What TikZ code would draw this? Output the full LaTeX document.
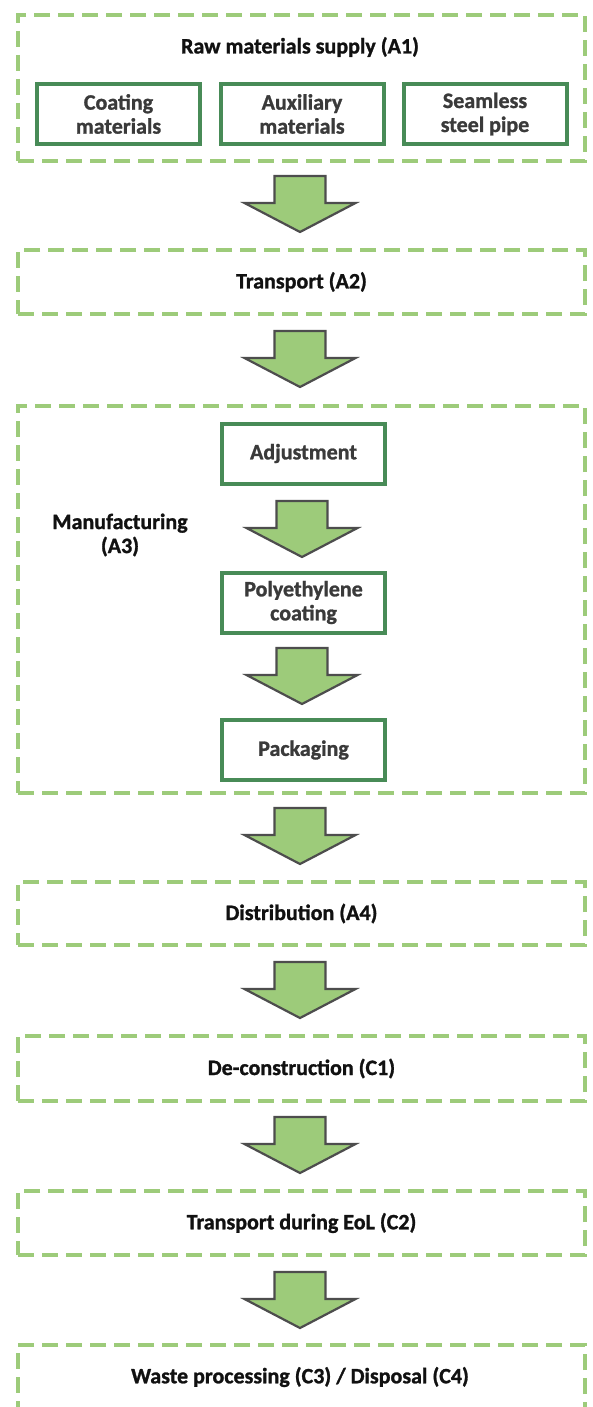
\documentclass[tikz,border=0pt]{standalone}
\usepackage{fontspec}
\setmainfont{Carlito}[BoldFeatures={FakeBold=1.2}]
\definecolor{dgreen}{HTML}{9DCB7A}
\definecolor{bgreen}{HTML}{488B57}
\definecolor{afill}{HTML}{9DCB7A}
\definecolor{aline}{HTML}{4D4D4D}
\definecolor{itext}{HTML}{3A3A3A}
\definecolor{otext}{HTML}{111111}
\tikzset{
  stage/.style={draw=dgreen, line width=4pt, dash pattern=on 16pt off 8pt,
    minimum width=567pt, inner sep=0pt, text=otext, align=center,
    font=\bfseries\fontsize{22}{24}\selectfont},
  sub/.style={draw=bgreen, line width=4pt, minimum width=163pt,
    minimum height=60pt, inner sep=0pt, text=itext, align=center,
    font=\bfseries\fontsize{22}{24}\selectfont},
  lbl/.style={inner sep=0pt, text=otext, align=center,
    font=\bfseries\fontsize{22}{24}\selectfont},
  blockarrow/.pic={
    \draw[draw=aline, fill=afill, line width=2.2pt, line join=miter]
      (-25.5,0) -- (25.5,0) -- (25.5,27) -- (55.5,27) -- (0,56)
      -- (-55.5,27) -- (-25.5,27) -- cycle;
  }
}
\begin{document}
\begin{tikzpicture}[x=1pt, y=-1pt]
\useasboundingbox (0,0) rectangle (592,1407);
\clip (0,0) rectangle (592,1407);
\fill[white] (0,0) rectangle (592,1407);

% A1
\node[stage, minimum height=146pt] (a1) at (301.5,88) {};
\node[lbl] (a1t) at (300,47) {Raw materials supply (A1)};
\node[sub] (coat) at (118.5,114) {Coating\\materials};
\node[sub] (aux) at (302,114) {Auxiliary\\materials};
\node[sub] (pipe) at (485,114) {Seamless\\steel pipe};

\pic at (300,176) {blockarrow};

% A2
\node[stage, minimum height=64pt] (a2) at (301.5,282) {Transport (A2)};

\pic at (300,331) {blockarrow};

% A3
\node[stage, minimum height=387pt] (a3) at (301.5,599.5) {};
\node[lbl] (a3t) at (120,535) {Manufacturing\\(A3)};
\node[sub] (adj) at (303.5,453.5) {Adjustment};
\pic at (302,501) {blockarrow};
\node[sub] (poly) at (303.5,602.5) {Polyethylene\\coating};
\pic at (302,648) {blockarrow};
\node[sub] (pack) at (303.5,750) {Packaging};

\pic at (300,808) {blockarrow};

% A4
\node[stage, minimum height=63pt] (a4) at (301.5,913.5) {Distribution (A4)};

\pic at (300,962) {blockarrow};

% C1
\node[stage, minimum height=65pt] (c1) at (301.5,1068.5) {De-construction (C1)};

\pic at (300,1117) {blockarrow};

% C2
\node[stage, minimum height=64pt] (c2) at (301.5,1223) {Transport during EoL (C2)};

\pic at (300,1272) {blockarrow};

% C3/C4
\node[stage, minimum height=130pt] (c3) at (301.5,1410) {};
\node[lbl] (c3t) at (300,1377) {Waste processing (C3) / Disposal (C4)};
\end{tikzpicture}
\end{document}
